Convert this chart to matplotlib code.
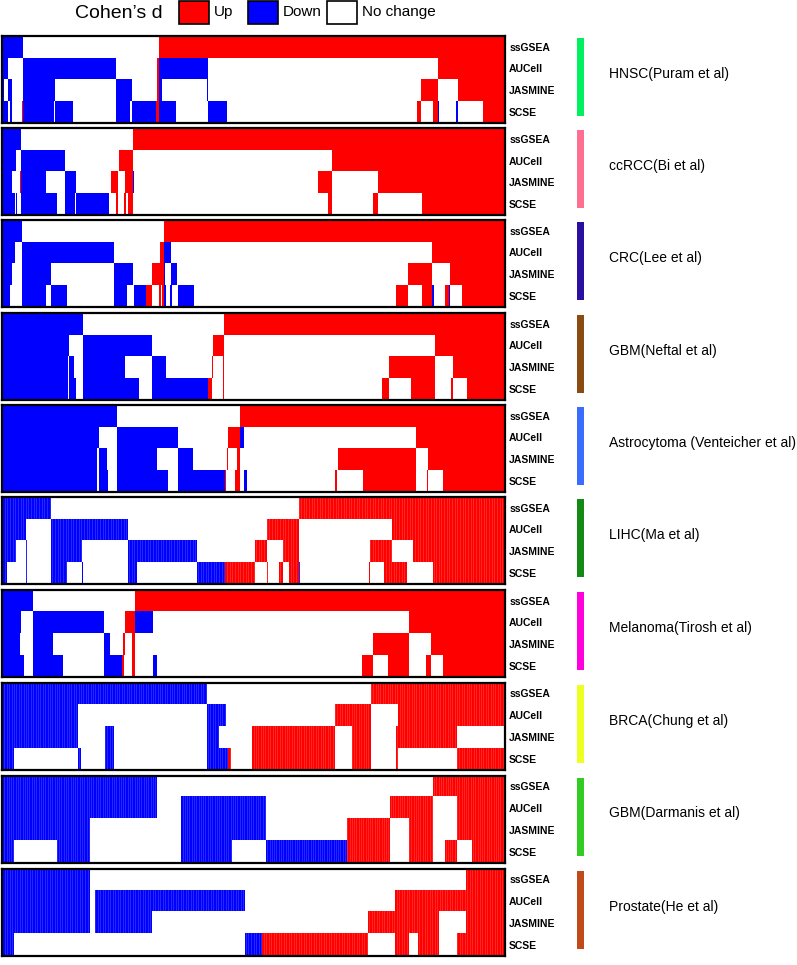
import numpy as np
import matplotlib.pyplot as plt
from matplotlib.colors import ListedColormap
from matplotlib.patches import Rectangle

methods = ['ssGSEA', 'AUCell', 'JASMINE', 'SCSE']
n_cols = 503

datasets = ['HNSC(Puram et al)', 'ccRCC(Bi et al)', 'CRC(Lee et al)', 'GBM(Neftal et al)',
            'Astrocytoma (Venteicher et al)', 'LIHC(Ma et al)', 'Melanoma(Tirosh et al)',
            'BRCA(Chung et al)', 'GBM(Darmanis et al)', 'Prostate(He et al)']
bar_colors = ['#00f060', '#ff6f91', '#2a0fa0', '#8b4c12', '#3a6cff',
              '#138a13', '#ff00dd', '#eeff22', '#33cc22', '#c04a1a']
# number of signatures drawn (only the dense panels show individual columns)
n_sigs = [0, 0, 0, 0, 0, 190, 0, 210, 220, 200]

# each row: state + end column (D = down, U = up, N = no change)
hnsc = ['D21 N157 U503',
        'D6 N21 D114 N155 U157 D206 N436 U503',
        'D2 N6 D10 N21 D53 N114 D130 N155 U157 D160 N205 D206 N419 U436 N456 U503',
        'D6 N8 D10 N20 U21 D52 N53 D71 N114 D128 N130 D154 U157 D174 N206 D225 N415 U419 N431 U436 D437 N454 D456 N481 U503']
ccrcc = ['D19 N131 U503',
         'D14 N19 D63 N117 U131 N330 U503',
         'D10 N18 U19 D44 N63 D74 N109 U116 N123 U131 D132 N316 U330 N376 U503',
         'D13 N14 D15 N19 D55 N63 D73 N74 D107 N114 U116 N122 U124 N126 U131 N326 U330 N371 U376 N420 U503']
crc = ['D20 N162 U503',
       'D13 N20 D112 N158 U162 D169 N430 U503',
       'D10 N20 D49 N112 D131 N150 U162 D163 N169 D175 N406 U430 N448 U503',
       'D8 N10 N20 D44 N49 D65 N112 D125 N132 D144 U150 N157 U159 N160 U162 D164 N168 D170 N176 D192 N394 U406 N420 U430 D432 N443 U447 D448 N460 U503']
gbm_neftel = ['D81 N222 U503',
              'D67 N81 D150 N211 U222 N433 U503',
              'D66 N67 D72 N81 D123 N150 D164 N210 U211 N221 U222 N387 U433 N451 U503',
              'D66 N67 D74 N81 D137 N150 D206 U210 N221 U222 N380 U387 N409 U433 N449 U451 N465 U503']
astro = ['D115 N238 U503',
         'D97 N115 D176 N226 U238 D242 N414 U503',
         'D95 N97 D105 N115 D155 N176 D191 N225 U226 N235 U238 N336 U414 N426 U503',
         'D95 N97 D106 N115 D166 N176 D223 U224 N233 U238 N242 D245 N333 U335 N361 U414 N425 U426 N441 U503']
lihc = ['D49 N297 U503',
        'D24 N49 D126 N265 U297 N390 U503',
        'D14 N24 D25 N49 D80 N126 D195 N253 U265 N281 U297 N368 U390 N411 U503',
        'D5 N24 D25 N49 D65 N80 D81 N126 D135 N195 D223 U253 N265 U266 N277 U281 N287 U297 D298 N367 U368 N382 U405 N431 U503']
melanoma = ['D31 N133 U503',
            'D19 N31 D102 N123 U133 D151 N407 U503',
            'D18 N31 D51 N102 D108 N121 U123 N130 U133 N371 U407 N429 U503',
            'D22 N31 D61 N102 D120 U122 N130 U133 N151 D155 N360 U371 N386 U407 N424 U429 N441 U503']
brca = ['D205 N369 U503',
        'D76 N205 D224 N333 U369 N396 U503',
        'D76 N103 D112 N205 D217 N224 N250 U333 N350 U369 N394 U396 U455 N503',
        'D12 N76 D79 N103 D112 N205 D226 U229 N250 U333 N350 U369 N394 U396 N455 U503']
gbm_darmanis = ['D155 N431 U503',
                'D155 N179 D264 N388 U431 N455 U503',
                'D88 N179 D264 N345 U388 N407 U431 N455 U503',
                'D12 N55 D88 N179 D230 N264 D345 U388 N407 U431 N443 U455 N470 U503']
prostate = ['D88 N464 U503',
            'D88 N93 D243 N393 U503',
            'D88 N93 D150 N243 N366 U393 U437 N464 U503',
            'D12 N88 N93 N150 N243 D260 U366 N393 U407 N416 U437 N455 U503']

panels = [hnsc, ccrcc, crc, gbm_neftel, astro, lihc, melanoma, brca, gbm_darmanis, prostate]


def to_matrix(rows):
    code = {'N': 0, 'D': 1, 'U': 2}
    M = np.zeros((len(rows), n_cols), dtype=int)
    for i, row in enumerate(rows):
        start = 0
        for tok in row.split():
            end = int(tok[1:])
            M[i, start:end] = code[tok[0]]
            start = end
    return M


W, H = 797, 965
fig = plt.figure(figsize=(W / 100, H / 100), dpi=100)
plt.rcParams['font.family'] = ['Liberation Sans', 'DejaVu Sans']
cmap = ListedColormap(['white', '#0000ff', '#ff0000'])

tops = [35.7, 128, 219.7, 312.7, 404.7, 496.7, 589.7, 682.5, 775.5, 868.5]
ph = 87

for k, rows in enumerate(panels):
    top = tops[k]
    ax = fig.add_axes([2 / W, 1 - (top + ph) / H, 503 / W, ph / H])
    ax.imshow(to_matrix(rows), cmap=cmap, vmin=0, vmax=2, aspect='auto', interpolation='nearest')
    if n_sigs[k]:
        # faint cell borders of the dense heatmaps
        ax.vlines(np.linspace(-0.5, n_cols - 0.5, n_sigs[k] + 1), -0.5, 3.5,
                  color='white', alpha=0.22, linewidth=0.5)
    ax.set_xlim(-0.5, n_cols - 0.5)
    ax.set_ylim(3.5, -0.5)
    ax.set_xticks([])
    ax.yaxis.tick_right()
    ax.set_yticks(range(4))
    ax.set_yticklabels(methods, fontsize=7.5, fontweight='bold')
    ax.tick_params(axis='y', length=0, pad=3)
    for s in ax.spines.values():
        s.set_linewidth(1.6)
    # coloured side bar and dataset name
    fig.patches.append(Rectangle((577 / W, 1 - (top + 80) / H), 7 / W, 78 / H,
                                 transform=fig.transFigure, facecolor=bar_colors[k], edgecolor='none'))
    fig.text(609 / W, 1 - (top + 38) / H, datasets[k], fontsize=10, va='center')

# legend
narrow = ['Liberation Sans Narrow', 'Liberation Sans', 'DejaVu Sans']
fig.text(75 / W, 1 - 13 / H, "Cohen’s d", fontsize=14, va='center', family=narrow)
for x0, col, lab in [(179, '#ff0000', 'Up'), (248, '#0000ff', 'Down'), (327, 'white', 'No change')]:
    fig.patches.append(Rectangle((x0 / W, 1 - 24 / H), 30 / W, 23 / H, transform=fig.transFigure,
                                 facecolor=col, edgecolor='black', linewidth=1.2))
    fig.text((x0 + 35) / W, 1 - 12 / H, lab, fontsize=11, va='center', family=narrow)

fig.savefig('out.png', dpi=100)
